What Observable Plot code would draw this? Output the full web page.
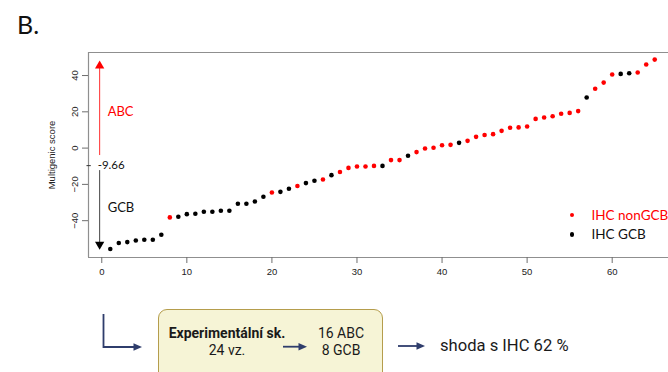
<!DOCTYPE html>
<html>
<head>
<meta charset="utf-8">
<script src="https://cdn.jsdelivr.net/npm/d3@7"></script>
<script src="https://cdn.jsdelivr.net/npm/@observablehq/plot@0.6"></script>
<style>
  html, body { margin: 0; padding: 0; background: #fff; }
  body { width: 668px; height: 372px; position: relative; overflow: hidden; }
  #chart { position: absolute; left: 0; top: 0; }
  .abs { position: absolute; white-space: nowrap; }
  .lbl { font-family: Lato, "Liberation Sans", sans-serif; }
  .rb { font-family: Roboto, "Noto Sans", sans-serif; color: #1a1a1a; }
</style>
</head>
<body>
<div id="chart"></div>
<script>
// ---- data ----
const scores = [
  -55.6, -52.3, -51.8, -50.9, -50.5, -50.5, -47.8, -38.2, -37.8, -36.4,
  -36.2, -35.1, -35.1, -34.5, -34.5, -30.7, -30.7, -29.4, -26.8, -24.5,
  -24.1, -22.4, -20.9, -19.3, -18.0, -17.3, -14.9, -13.2, -10.9, -10.1,
  -10.1, -9.8, -9.8, -6.6, -6.6, -4.2, -2.2, -0.2, 0.2, 1.6,
  1.8, 2.9, 4.0, 6.2, 7.2, 7.7, 9.5, 11.2, 11.4, 11.9,
  16.1, 16.9, 17.6, 18.9, 19.4, 20.4, 27.9, 32.7, 36.1, 40.6,
  40.9, 41.3, 41.7, 46.1, 48.8
];
// IHC class per sample: "N" = IHC nonGCB, "G" = IHC GCB
const ihc = [
  "G","G","G","G","G","G","G","N","G","G",
  "G","G","G","G","G","G","G","G","G","N",
  "G","G","N","G","G","N","G","N","N","N",
  "N","N","G","N","N","G","N","N","N","N",
  "N","G","N","N","N","N","N","N","N","N",
  "N","N","N","N","N","N","G","N","N","N",
  "G","G","N","N","N"
];
const legendLabels = ["IHC nonGCB", "IHC GCB"];
const legendColors = ["#ff0000", "#000000"];
const xTicks = [0, 10, 20, 30, 40, 50, 60];
const yTicks = [-40, -20, 0, 20, 40];
const cutoff = -9.66;
const abcArrow = {y1: -4.1, y2: 45.4, label: "ABC", labelY: 20};
const gcbArrow = {y1: -12.4, y2: -53.1, label: "GCB", labelY: -32.8};
const arrowX = -0.25;
const xDomain = [-1.56, 67.56];
const yDomain = [-60.3, 52.7];

const table = scores.map((s, i) => ({idx: i + 1, score: s, cls: ihc[i]}));

const triUp = {draw(ctx, size) { const y = -Math.sqrt(size / (Math.sqrt(3) * 3));
  ctx.moveTo(0, y * 2); ctx.lineTo(-Math.sqrt(3) * y, -y); ctx.lineTo(Math.sqrt(3) * y, -y); ctx.closePath(); }};
const triDown = {draw(ctx, size) { const y = -Math.sqrt(size / (Math.sqrt(3) * 3));
  ctx.moveTo(0, -y * 2); ctx.lineTo(-Math.sqrt(3) * y, y); ctx.lineTo(Math.sqrt(3) * y, y); ctx.closePath(); }};

const frameColor = "#8f8f8f";
const tickColor = "#6e6e6e";

const chart = Plot.plot({
  width: 668,
  height: 290,
  marginTop: 52,
  marginBottom: 33,
  marginLeft: 88,
  marginRight: 0,
  x: {domain: xDomain, range: [88, 676]},
  y: {domain: yDomain},
  style: {fontFamily: "'Liberation Sans', Arial, sans-serif", fontSize: "9.5px", background: "transparent", color: "#222"},
  marks: [
    Plot.ruleY([yDomain[1]], {stroke: frameColor, strokeWidth: 1.2}),
    Plot.ruleY([yDomain[0]], {stroke: frameColor, strokeWidth: 1.2}),
    Plot.ruleX([xDomain[0]], {stroke: frameColor, strokeWidth: 1.2}),
    Plot.axisX({ticks: xTicks, tickSize: 6, tickPadding: 5, stroke: tickColor, fill: "#222", label: null}),
    Plot.axisY({ticks: yTicks, tickSize: 6, tickPadding: 5, tickRotate: -90, stroke: tickColor, fill: "#222",
      label: "Multigenic score", labelAnchor: "center", labelArrow: "none", labelOffset: 40}),
    // cutoff tick and label
    Plot.ruleY([cutoff], {x1: xDomain[0] - 0.18, x2: xDomain[0] + 0.33, stroke: "#333"}),
    Plot.text([cutoff], {x: arrowX, y: d => d, text: d => String(d), textAnchor: "start", dx: -2,
      fontFamily: "Lato, sans-serif", fontSize: 11.5, fill: "#111"}),
    // ABC arrow
    Plot.ruleX([abcArrow], {x: arrowX, y1: "y1", y2: "y2", stroke: "#ff3030", strokeWidth: 1}),
    Plot.dot([abcArrow], {x: arrowX, y: "y2", symbol: triUp, r: 3.45, fill: "#ff0000", stroke: "none"}),
    Plot.text([abcArrow], {x: arrowX, y: "labelY", text: "label", textAnchor: "start", dx: 8,
      fontFamily: "Lato, sans-serif", fontSize: 13, fill: "#ff0000"}),
    // GCB arrow
    Plot.ruleX([gcbArrow], {x: arrowX, y1: "y1", y2: "y2", stroke: "#444", strokeWidth: 1}),
    Plot.dot([gcbArrow], {x: arrowX, y: "y2", symbol: triDown, r: 3.45, fill: "#000", stroke: "none"}),
    Plot.text([gcbArrow], {x: arrowX, y: "labelY", text: "label", textAnchor: "start", dx: 8,
      fontFamily: "Lato, sans-serif", fontSize: 13, fill: "#111"}),
    // points
    Plot.dot(table, {x: "idx", y: "score", r: 2.3, stroke: "none",
      fill: d => d.cls === "N" ? legendColors[0] : legendColors[1]})
  ]
});
document.getElementById("chart").appendChild(chart);

// ---- overlays: panel letter, legend, workflow diagram ----
const body = document.body;
function addDiv(html, css, cls) {
  const d = document.createElement("div");
  d.className = "abs " + (cls || "");
  d.innerHTML = html;
  Object.assign(d.style, css);
  body.appendChild(d);
  return d;
}
addDiv("B.", {left: "17px", top: "9px", fontSize: "25px", lineHeight: "30px", color: "#111"}, "lbl");

legendLabels.forEach((lab, i) => {
  const top = 215 + i * 19.3;
  addDiv("", {left: "569.5px", top: (top - 2.3) + "px", width: "4.6px", height: "4.6px", borderRadius: "50%", background: legendColors[i]});
  addDiv(lab, {left: "591.5px", top: (top - 9) + "px", fontSize: "13.5px", lineHeight: "18px", color: legendColors[i] === "#000000" ? "#111" : legendColors[i]}, "lbl");
});

const boxTexts = {group: "Experimentální sk.", n: "24 vz.", abc: "16 ABC", gcb: "8 GCB", result: "shoda s IHC 62 %"};
addDiv("", {left: "158px", top: "309px", width: "223px", height: "90px", borderRadius: "9px",
  border: "1.6px solid #b59d4c", background: "#f6f4d6"});
addDiv(boxTexts.group, {left: "157px", width: "140px", textAlign: "center", top: "323.5px", fontSize: "14px", lineHeight: "18px", fontWeight: "700"}, "rb");
addDiv(boxTexts.n, {left: "157px", width: "140px", textAlign: "center", top: "341px", fontSize: "14px", lineHeight: "18px"}, "rb");
addDiv(boxTexts.abc, {left: "301px", width: "80px", textAlign: "center", top: "323.5px", fontSize: "14px", lineHeight: "18px"}, "rb");
addDiv(boxTexts.gcb, {left: "301px", width: "80px", textAlign: "center", top: "341px", fontSize: "14px", lineHeight: "18px"}, "rb");
addDiv(boxTexts.result, {left: "440px", top: "335.5px", fontSize: "16.6px", lineHeight: "20px"}, "rb");

const ns = "http://www.w3.org/2000/svg";
const svg = document.createElementNS(ns, "svg");
svg.setAttribute("width", 668); svg.setAttribute("height", 372);
Object.assign(svg.style, {position: "absolute", left: "0px", top: "0px", pointerEvents: "none"});
const navy = "#2f3d6c";
svg.innerHTML = `
  <path d="M103.5,314 V347 H135" fill="none" stroke="${navy}" stroke-width="1.8"/>
  <polygon points="142,347 133.5,343.3 133.5,350.7" fill="${navy}"/>
  <path d="M283,346.7 H300" fill="none" stroke="${navy}" stroke-width="1.8"/>
  <polygon points="307,346.7 298.5,343 298.5,350.4" fill="${navy}"/>
  <path d="M398,346 H418" fill="none" stroke="${navy}" stroke-width="1.8"/>
  <polygon points="425,346 416.5,342.3 416.5,349.7" fill="${navy}"/>`;
body.appendChild(svg);
</script>
</body>
</html>
